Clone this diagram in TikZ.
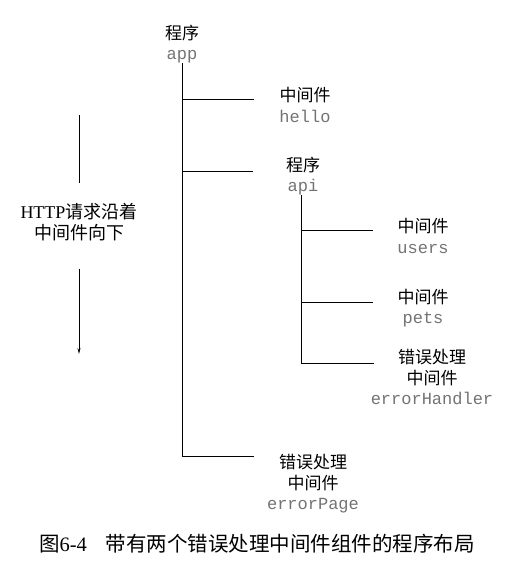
\documentclass[tikz,border=0pt]{standalone}
\usepackage{fontspec}
\setmainfont{Liberation Serif}
\setmonofont{Liberation Mono}
\newfontfamily\cjk{Noto Sans CJK SC}
\usetikzlibrary{arrows.meta}

\begin{document}
\begin{tikzpicture}[
            x=1pt, y=-1pt,
            label/.style={align=center, inner sep=0pt, font=\fontsize{17}{20.5}\selectfont},
            branch/.style={line width=1pt},
            ]
            \newcommand{\codename}[1]{{\ttfamily\color{black!55}#1}}
            \useasboundingbox (0,0) rectangle (524,568);

            \node[label] (app)   at (182,44)  {\cjk 程序\\\codename{app}};
            \node[label] (hello) at (305,105) {\cjk 中间件\\\codename{hello}};
            \node[label] (api)   at (303,176) {\cjk 程序\\\codename{api}};
            \node[label] (users) at (423,236) {\cjk 中间件\\\codename{users}};
            \node[label] (pets)  at (423,308) {\cjk 中间件\\\codename{pets}};
            \node[label] (errh)  at (432,377) {\cjk 错误处理\\\cjk 中间件\\\codename{errorHandler}};
            \node[label] (errp)  at (313,484) {\cjk 错误处理\\\cjk 中间件\\\codename{errorPage}};
            \node[label, font=\fontsize{18}{20.5}\selectfont] (flow) at (79,222)
                {HTTP{\cjk 请求沿着}\\\cjk 中间件向下};
            \node[inner sep=0pt, font=\fontsize{20.5}{24}\selectfont] (caption) at (257,544)
                {{\cjk 图}6-4\hspace{19pt}{\cjk 带有两个错误处理中间件组件的程序布局}};

            % branch ends
            \coordinate (hb) at (254,99);
            \coordinate (ab) at (253,171);
            \coordinate (ub) at (373,230);
            \coordinate (pb) at (373,302);
            \coordinate (hhb) at (374,363);
            \coordinate (epb) at (254,456);
            \coordinate (top) at (79,115);
            \coordinate (bottom) at (79,354);

            % app tree
            \draw[branch] (app.south) |- (epb);
            \draw[branch] (app.south |- hb) -- (hb);
            \draw[branch] (app.south |- ab) -- (ab);
            % api tree
            \draw[branch] ([xshift=-2pt]api.south) |- (hhb);
            \draw[branch] ([xshift=-2pt]api.south |- ub) -- (ub);
            \draw[branch] ([xshift=-2pt]api.south |- pb) -- (pb);

            % request direction
            \draw[branch, shorten >=20pt] (top) -- (flow.north);
            \draw[branch, shorten <=28pt, -{Stealth[length=6pt, width=3pt]}] (flow.south) -- (bottom);
        \end{tikzpicture}
\end{document}
